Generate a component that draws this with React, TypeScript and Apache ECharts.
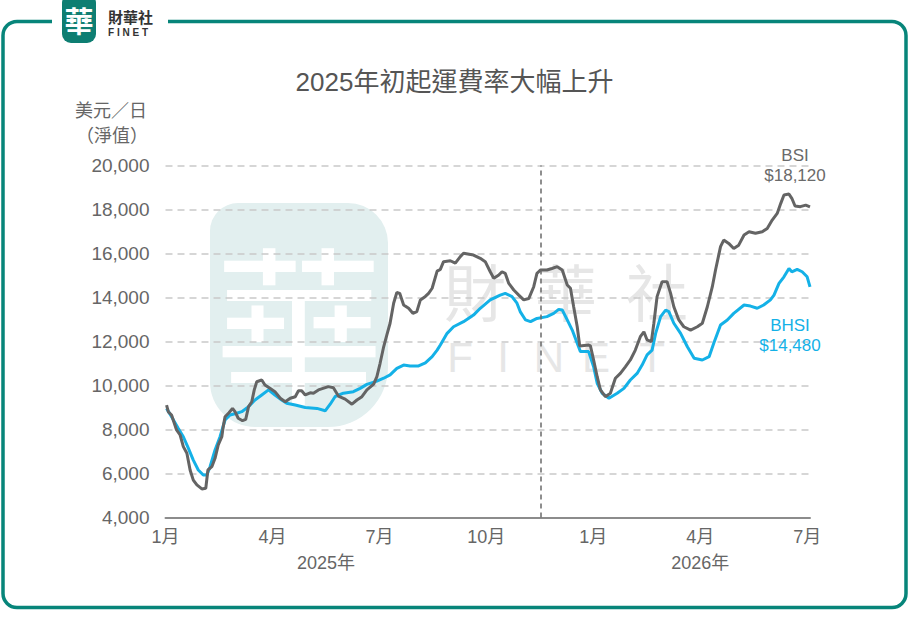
import React, { useEffect, useRef } from "react";
import * as echarts from "echarts";

// x values are months since January 2025
const bsiMonths = [
  0.03, 0.08, 0.17, 0.31, 0.41, 0.5, 0.6, 0.69, 0.78, 0.88, 1.02, 1.13, 1.19, 1.3, 1.39, 1.48, 1.58, 1.62, 1.67, 1.78,
  1.88, 1.95, 2.04, 2.16, 2.25, 2.33, 2.42, 2.49, 2.56, 2.7, 2.79, 2.93, 3.07, 3.22, 3.36, 3.5, 3.64, 3.73, 3.82, 3.92,
  4.06, 4.15, 4.29, 4.57, 4.71, 4.85, 5.04, 5.23, 5.37, 5.51, 5.65, 5.84, 5.93, 6.02, 6.12, 6.21, 6.3, 6.4, 6.49, 6.57,
  6.68, 6.82, 6.94, 7.05, 7.15, 7.29, 7.38, 7.48, 7.62, 7.71, 7.8, 7.99, 8.13, 8.27, 8.36, 8.64, 8.83, 8.97, 9.11, 9.21,
  9.35, 9.44, 9.53, 9.63, 9.77, 9.91, 10.05, 10.19, 10.33, 10.42, 10.52, 10.7, 10.84, 10.99, 11.13, 11.27, 11.36, 11.45,
  11.55, 11.62, 11.87, 11.92, 12.01, 12.11, 12.2, 12.34, 12.48, 12.62, 12.76, 12.9, 13.04, 13.18, 13.32, 13.42, 13.51,
  13.63, 13.7, 13.79, 13.93, 14.07, 14.17, 14.26, 14.4, 14.54, 14.73, 14.92, 15.06, 15.2, 15.34, 15.43, 15.57, 15.66,
  15.8, 15.94, 16.08, 16.23, 16.37, 16.55, 16.74, 16.88, 17.02, 17.16, 17.26, 17.35, 17.49, 17.57, 17.66, 17.81, 17.96,
  18.08,
];
const bsiValues = [
  9110, 8800, 8660, 7980, 7750, 7220, 6920, 6160, 5700, 5480, 5300, 5330, 6160, 6310, 6690, 7300, 7670, 8130, 8580, 8760,
  8960, 8810, 8510, 8400, 8460, 9040, 9260, 9800, 10170, 10250, 10020, 9870, 9720, 9420, 9260, 9420, 9490, 9760, 9760,
  9570, 9670, 9650, 9800, 9950, 9900, 9520, 9380, 9150, 9340, 9490, 9800, 10060, 10400, 11010, 11760, 12300, 12830, 13740,
  14230, 14190, 13660, 13510, 13280, 13360, 13890, 14050, 14190, 14420, 15200, 15280, 15630, 15670, 15560, 15860, 16010,
  15930, 15780, 15630, 15170, 14870, 15020, 15170, 15100, 14640, 14340, 14110, 13890, 13950, 14490, 15100, 15250, 15250,
  15320, 15400, 15250, 14570, 14420, 13580, 12670, 11800, 11840, 11800, 11160, 10400, 9800, 9490, 9650, 10330, 10550,
  10850, 11160, 11610, 12220, 12440, 12070, 11990, 12830, 14040, 14720, 14720, 14190, 13580, 12980, 12670, 12520, 12670,
  12830, 13580, 14490, 15250, 16310, 16610, 16460, 16230, 16380, 16840, 16990, 16920, 16990, 17140, 17520, 17820, 18280,
  18660, 18700, 18510, 18160, 18130, 18200, 18120,
];

const bhsiMonths = [
  0.03, 0.17, 0.36, 0.5, 0.64, 0.78, 0.92, 1.06, 1.16, 1.25, 1.39, 1.53, 1.67, 1.81, 2.0, 2.14, 2.33, 2.51, 2.7, 2.89,
  3.07, 3.26, 3.4, 3.64, 3.92, 4.25, 4.48, 4.62, 4.76, 4.99, 5.27, 5.46, 5.65, 5.93, 6.12, 6.3, 6.49, 6.68, 6.86, 7.1,
  7.29, 7.48, 7.62, 7.71, 7.9, 8.08, 8.36, 8.64, 8.83, 9.11, 9.39, 9.53, 9.72, 9.86, 9.95, 10.1, 10.24, 10.42, 10.7,
  10.89, 11.03, 11.13, 11.27, 11.41, 11.55, 11.64, 11.87, 12.01, 12.11, 12.25, 12.44, 12.67, 12.86, 13.04, 13.23, 13.37,
  13.51, 13.65, 13.75, 13.89, 14.03, 14.12, 14.26, 14.45, 14.64, 14.83, 15.06, 15.25, 15.38, 15.57, 15.76, 15.94, 16.23,
  16.41, 16.6, 16.78, 16.97, 17.07, 17.21, 17.35, 17.49, 17.57, 17.72, 17.86, 18.0, 18.08,
];
const bhsiValues = [
  8960, 8580, 8050, 7670, 7150, 6610, 6160, 5930, 5930, 6310, 7070, 7670, 8430, 8660, 8740, 8810, 9040, 9340, 9570, 9800,
  9570, 9340, 9190, 9110, 9000, 8960, 8850, 9150, 9500, 9650, 9720, 9870, 10050, 10200, 10330, 10480, 10780, 10930, 10890,
  10890, 11030, 11310, 11610, 11840, 12370, 12670, 12900, 13200, 13510, 13890, 14110, 14190, 14040, 13740, 13360, 12980,
  12900, 13050, 13130, 13280, 13460, 13430, 12980, 12520, 11920, 11540, 11540, 10850, 10100, 9650, 9420, 9650, 9870,
  10250, 10550, 10930, 11390, 11610, 12370, 13130, 13430, 13360, 12830, 12370, 11760, 11240, 11160, 11310, 11920, 12750,
  12980, 13280, 13660, 13610, 13510, 13660, 13890, 14110, 14640, 14940, 15320, 15170, 15280, 15170, 14940, 14480,
];

const seriesNames = ["BSI", "BHSI"];
const endValueLabels = ["$18,120", "$14,480"];
const xMin = 0;
const xMax = 18.08;
const xTickInterval = 3;
const yMin = 4000;
const yMax = 20000;
const yInterval = 2000;
const yearLabels: Record<string, string> = { "4.5": "2025年", "15": "2026年" };
const markerMonth = 10.52;

const FONT = "'Liberation Sans', Arial, 'Noto Sans CJK TC', sans-serif";
const CJK = "'Noto Sans CJK TC', 'Liberation Sans', sans-serif";
const GREY = "#646464";
const BLUE = "#14B1E7";
const TEAL = "#07857A";
const TEXT = "#666666";

export default function App() {
  const ref = useRef<HTMLDivElement>(null);
  useEffect(() => {
    const chart = echarts.init(ref.current!, null, { renderer: "svg" });
    const bsiData = bsiMonths.map((m, i) => [m, bsiValues[i]]);
    const bhsiData = bhsiMonths.map((m, i) => [m, bhsiValues[i]]);
    const bsiLast = bsiData[bsiData.length - 1];
    const bhsiLast = bhsiData[bhsiData.length - 1];

    const option: any = {
      animation: false,
      backgroundColor: "#ffffff",
      textStyle: { fontFamily: FONT },
      title: {
        text: "2025年初起運費率大幅上升",
        left: "center",
        top: 64,
        textStyle: { fontFamily: FONT, fontSize: 26, fontWeight: "normal", color: "#555555" },
      },
      grid: { left: 165.5, top: 165.5, width: 644.5, height: 352, containLabel: false },
      xAxis: [
        {
          type: "value",
          min: xMin,
          max: xMax,
          interval: xTickInterval,
          axisLine: { show: true, lineStyle: { color: "#8c8c8c", width: 2 } },
          axisTick: { show: false },
          splitLine: { show: false },
          axisLabel: {
            fontSize: 18,
            color: TEXT,
            margin: 10,
            fontFamily: FONT,
            showMaxLabel: false,
            formatter: (v: number) => {
              if (Math.abs(v / xTickInterval - Math.round(v / xTickInterval)) > 1e-6) return "";
              return `${(Math.round(v) % 12) + 1}月`;
            },
          },
        },
        {
          type: "value",
          position: "bottom",
          offset: 26,
          min: xMin,
          max: xMax,
          interval: 0.5,
          axisLine: { show: false },
          axisTick: { show: false },
          splitLine: { show: false },
          axisLabel: {
            fontSize: 18,
            color: TEXT,
            margin: 10,
            fontFamily: FONT,
            formatter: (v: number) => yearLabels[String(Math.round(v * 2) / 2)] || "",
          },
        },
      ],
      yAxis: {
        type: "value",
        min: yMin,
        max: yMax,
        interval: yInterval,
        axisLine: { show: false },
        axisTick: { show: false },
        splitLine: { show: true, lineStyle: { color: "#c9c9c9", width: 1.5, type: [7, 5] } },
        axisLabel: {
          fontSize: 19,
          color: TEXT,
          margin: 16,
          fontFamily: FONT,
          formatter: (v: number) => v.toLocaleString("en-US"),
        },
      },
      graphic: [
        // frame
        {
          type: "rect",
          z: 50,
          shape: { x: 3, y: 21.5, width: 903, height: 586, r: 14 },
          style: { fill: "none", stroke: TEAL, lineWidth: 3.5 },
        },
        { type: "rect", z: 51, shape: { x: 52, y: 12, width: 116, height: 20 }, style: { fill: "#ffffff" } },
        { type: "rect", z: 52, shape: { x: 62, y: -6, width: 34, height: 49, r: 9 }, style: { fill: "#0E7E72" } },
        {
          type: "text",
          z: 53,
          x: 79,
          y: 20,
          style: {
            text: "華",
            fill: "#ffffff",
            font: `bold 29px ${CJK}`,
            textAlign: "center",
            textVerticalAlign: "middle",
          },
        },
        {
          type: "text",
          z: 53,
          x: 108,
          y: 16,
          style: {
            text: "財華社",
            fill: "#333333",
            font: `bold 15px ${CJK}`,
            textVerticalAlign: "middle",
          },
        },
        {
          type: "text",
          z: 53,
          x: 108,
          y: 32,
          style: {
            text: "F I N E T",
            fill: "#333333",
            font: `bold 10px ${FONT}`,
            textVerticalAlign: "middle",
          },
        },
        // y axis name
        {
          type: "text",
          x: 111,
          y: 109,
          style: {
            text: "美元／日",
            fill: TEXT,
            font: `18px ${CJK}`,
            textAlign: "center",
            textVerticalAlign: "middle",
          },
        },
        {
          type: "text",
          x: 112,
          y: 134,
          style: {
            text: "（淨值）",
            fill: TEXT,
            font: `18px ${CJK}`,
            textAlign: "center",
            textVerticalAlign: "middle",
          },
        },
        // watermark
        {
          type: "rect",
          z: -10,
          shape: { x: 210, y: 203, width: 178, height: 224, r: [28, 40, 60, 45] },
          style: { fill: "#E2EFEF" },
        },
        {
          type: "text",
          z: -9,
          x: 299,
          y: 318,
          style: {
            text: "華",
            fill: "#ffffff",
            font: `170px ${CJK}`,
            textAlign: "center",
            textVerticalAlign: "middle",
          },
        },
        ...["財", "華", "社"].map((c, i) => ({
          type: "text",
          z: -9,
          x: 475 + i * 91,
          y: 290,
          style: {
            text: c,
            fill: "#e6e6e6",
            font: `62px ${CJK}`,
            textAlign: "center",
            textVerticalAlign: "middle",
          },
        })),
        ...["F", "I", "N", "E", "T"].map((c, i) => ({
          type: "text",
          z: -9,
          x: [460, 503, 549, 596, 652][i],
          y: 357,
          style: {
            text: c,
            fill: "#e6e6e6",
            font: `42px ${FONT}`,
            textAlign: "center",
            textVerticalAlign: "middle",
          },
        })),
      ],
      series: [
        {
          name: seriesNames[0],
          type: "line",
          data: bsiData,
          showSymbol: false,
          symbol: "none",
          z: 4,
          lineStyle: { color: GREY, width: 3 },
          itemStyle: { color: GREY },
          markLine: {
            silent: true,
            symbol: ["none", "none"],
            label: { show: false },
            lineStyle: { color: "#6a6a6a", width: 1.5, type: [5, 4] },
            data: [{ xAxis: markerMonth }],
          },
          markPoint: {
            symbol: "circle",
            symbolSize: 1,
            itemStyle: { color: "rgba(0,0,0,0)" },
            label: {
              show: true,
              position: "inside",
              offset: [-15, -41],
              formatter: `${seriesNames[0]}\n${endValueLabels[0]}`,
              fontSize: 17,
              lineHeight: 20,
              color: "#6a6a6a",
              fontFamily: FONT,
              align: "center",
            },
            data: [{ coord: bsiLast }],
          },
        },
        {
          name: seriesNames[1],
          type: "line",
          data: bhsiData,
          showSymbol: false,
          symbol: "none",
          z: 3,
          lineStyle: { color: BLUE, width: 3 },
          itemStyle: { color: BLUE },
          markPoint: {
            symbol: "circle",
            symbolSize: 1,
            itemStyle: { color: "rgba(0,0,0,0)" },
            label: {
              show: true,
              position: "inside",
              offset: [-20, 49],
              formatter: `${seriesNames[1]}\n${endValueLabels[1]}`,
              fontSize: 17,
              lineHeight: 20,
              color: BLUE,
              fontFamily: FONT,
              align: "center",
            },
            data: [{ coord: bhsiLast }],
          },
        },
      ],
    };
    chart.setOption(option);
    return () => chart.dispose();
  }, []);
  return (
    <div
      ref={ref}
      style={{ position: "fixed", left: 0, top: 0, width: 909, height: 630, background: "#ffffff" }}
    />
  );
}
